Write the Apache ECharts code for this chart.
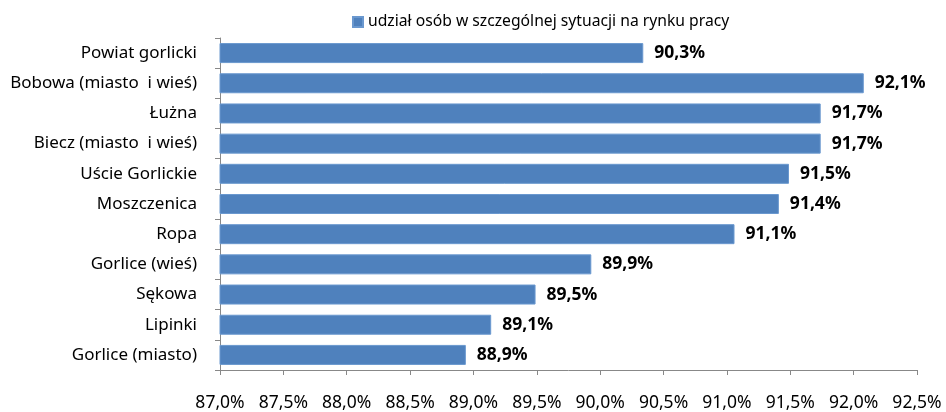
<!DOCTYPE html>
<html>
<head>
<meta charset="utf-8">
<script src="https://cdn.jsdelivr.net/npm/echarts@6/dist/echarts.min.js"></script>
<style>
  html, body { margin: 0; padding: 0; background: #fff; }
  #chart { width: 946px; height: 412px; }
</style>
</head>
<body>
<div id="chart"></div>
<script>
const categories = [
  'Powiat gorlicki',
  'Bobowa (miasto  i wieś)',
  'Łużna',
  'Biecz (miasto  i wieś)',
  'Uście Gorlickie',
  'Moszczenica',
  'Ropa',
  'Gorlice (wieś)',
  'Sękowa',
  'Lipinki',
  'Gorlice (miasto)'
]
const values = [90.34, 92.08, 91.74, 91.74, 91.49, 91.41, 91.06, 89.93, 89.49, 89.14, 88.94]
const seriesName = 'udział osób w szczególnej sytuacji na rynku pracy'

const fontFamily = '"Noto Sans", "Open Sans", sans-serif'
const fmt = v => v.toFixed(1).replace('.', ',') + '%'

const chart = echarts.init(document.getElementById('chart'), null, { renderer: 'canvas' })
chart.setOption({
  animation: false,
  textStyle: { fontFamily },
  legend: {
    top: 9,
    left: 347,
    itemWidth: 10,
    itemHeight: 10,
    itemGap: 4,
    textStyle: { fontSize: 15.7, color: '#000', fontFamily },
    data: [{ name: seriesName, icon: 'rect' }]
  },
  grid: { left: 220, right: 29, top: 38, bottom: 41, containLabel: false },
  xAxis: {
    type: 'value',
    min: 87,
    max: 92.5,
    interval: 0.5,
    splitLine: { show: false },
    axisLine: { show: true, lineStyle: { color: '#888' } },
    axisTick: { show: true, length: 5, lineStyle: { color: '#888' } },
    axisLabel: {
      color: '#000',
      fontSize: 17.5,
      margin: 24,
      fontFamily,
      formatter: v => v.toFixed(1).replace('.', ',') + '%'
    }
  },
  yAxis: {
    type: 'category',
    inverse: true,
    data: categories,
    axisLine: { show: true, lineStyle: { color: '#888' } },
    axisTick: { show: true, length: 5, lineStyle: { color: '#888' } },
    axisLabel: { color: '#000', fontSize: 17, margin: 23, fontFamily }
  },
  series: [{
    name: seriesName,
    type: 'bar',
    data: values,
    barWidth: 20,
    itemStyle: { color: '#4f81bd', borderColor: '#6a98cf', borderWidth: 1 },
    label: {
      show: true,
      position: 'right',
      distance: 11,
      color: '#000',
      fontSize: 17.5,
      fontWeight: 'bold',
      fontFamily,
      formatter: p => fmt(p.value)
    }
  }]
})
</script>
</body>
</html>
